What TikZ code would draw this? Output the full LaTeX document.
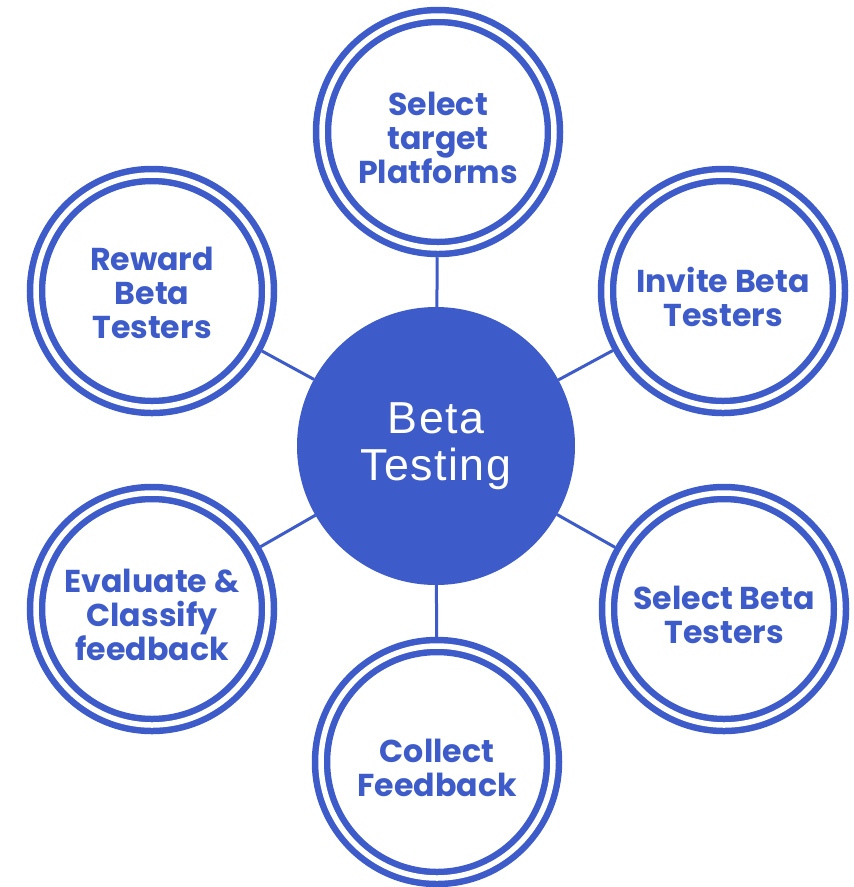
\documentclass[tikz,border=0pt]{standalone}
\usepackage{fontspec}
\setmainfont{Liberation Sans}[LetterSpace=3]
\newfontfamily\stepfont{Poppins}[UprightFont=* Bold]
\definecolor{betablau}{RGB}{61,91,201}

\begin{document}
\begin{tikzpicture}[
  ring/.style = {circle, draw=betablau, line width=0.13cm, double=white, double distance=0.11cm,
                 minimum size=4.64cm, outer sep=0.185cm, inner sep=0pt, align=center,
                 text=betablau, font=\stepfont\fontsize{18}{19.5}\selectfont},
  steptext/.style = {align=center, text=betablau, font=\stepfont\fontsize{18}{19.5}\selectfont},
  hub/.style = {circle, fill=betablau, minimum size=5.56cm, inner sep=0pt, outer sep=0pt,
                align=center, text=white, font=\fontsize{25.5}{27}\selectfont},
  link/.style = {draw=betablau, line width=0.06cm}]
\useasboundingbox (0,0) rectangle (17.08,-17.74);
% hub
\node[hub] (hub) at (8.72,-8.92) {Beta\\Testing};
% steps
\node[ring] (platforms) at (8.76,-2.64) {};
\node[ring] (invite) at (14.46,-5.82) {};
\node[ring] (select) at (14.48,-12.18) {};
\node[ring] (collect) at (8.74,-15.24) {};
\node[ring] (evaluate) at (3.04,-12.18) {};
\node[ring] (reward) at (3.04,-5.82) {};
% labels
\node[steptext, yshift=-0.12cm] (platformstxt) at (platforms) {Select\\target\\Platforms};
\node[steptext, yshift=-0.12cm] (invitetxt) at (invite) {Invite Beta\\Testers};
\node[steptext, yshift=-0.12cm] (selecttxt) at (select) {Select Beta\\Testers};
\node[steptext, yshift=-0.12cm] (collecttxt) at (collect) {Collect\\Feedback};
\node[steptext, yshift=-0.12cm] (evaluatetxt) at (evaluate) {Evaluate \&\\Classify\\feedback};
\node[steptext, yshift=-0.04cm] (rewardtxt) at (reward) {Reward\\Beta\\Testers};
% links
\foreach \s in {platforms,invite,select,collect,evaluate,reward}
  \draw[link] (hub) -- (\s);
\end{tikzpicture}
\end{document}
